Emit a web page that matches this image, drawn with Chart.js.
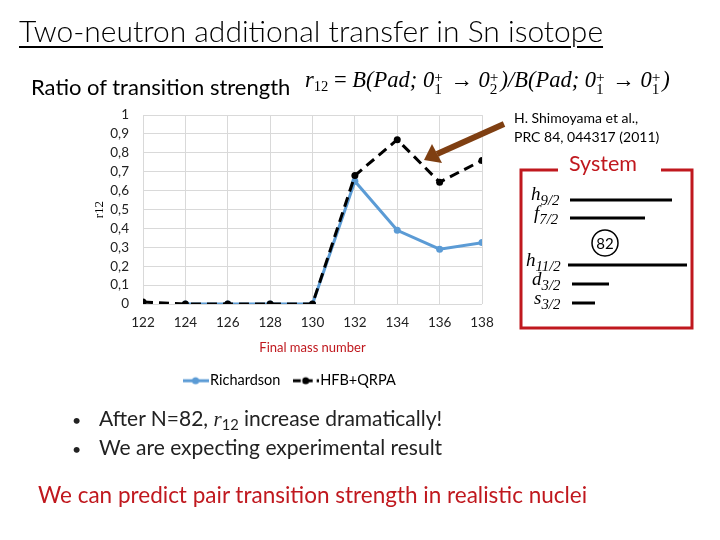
<!DOCTYPE html>
<html>
<head>
<meta charset="utf-8">
<script src="https://cdn.jsdelivr.net/npm/chart.js@4/dist/chart.umd.min.js"></script>
<style>
    body { margin: 0; background: #fff; }
    #slide { position: relative; width: 720px; height: 540px; overflow: hidden; font-family: Lato, "Noto Sans", sans-serif; }
    .abs { position: absolute; white-space: nowrap; }
    sub { vertical-align: baseline; position: relative; top: 0.3em; line-height: 0; }
    #title { left: 19px; top: 12px; font-size: 30px; font-weight: 300; color: #000; text-decoration: underline; text-decoration-thickness: 2px; text-underline-offset: 4px; }
    #ratio { left: 31px; top: 73px; font-size: 22px; color: #000; }
    .math { font-family: "Liberation Serif", "DejaVu Serif", serif; font-style: italic; }
    .up { font-style: normal; }
    .ss { display: inline-block; vertical-align: -0.45em; line-height: 0.8; font-size: 0.68em; text-align: left; margin-right: 2px; font-style: normal; }
    .ss span { display: block; }
    #formula { left: 305px; top: 67px; font-size: 22.5px; }
    #ref { left: 514px; top: 108px; font-size: 14px; line-height: 19px; color: #000; }
    #sys { left: 565px; top: 150px; font-size: 21.5px; color: #c0181e; background: #fff; padding: 0 4px; }
    .lvl { font-size: 19px; line-height: 20px; }
    .lvl sub { font-size: 0.78em; top: 0.35em; }
    #bullets { left: 72px; top: 404px; font-size: 21px; line-height: 28px; color: #222; }
    #bullets > div { height: 29px; }
    #bullets .dot { display: inline-block; width: 27px; font-size: 16px; }
    #bottom { left: 38px; top: 481px; font-size: 22.5px; color: #c0181e; }
    #chartBox { position: absolute; left: 80px; top: 93px; width: 440px; height: 305px; }
    svg { position: absolute; left: 0; top: 0; }
</style>
</head>
<body>
<div id="slide">
    <div id="chartBox"><canvas id="chart" width="440" height="305"></canvas></div>

    <svg width="720" height="540">
        <!-- arrow to HFB+QRPA curve -->
        <line x1="504" y1="124" x2="437" y2="154" stroke="#7f3f12" stroke-width="6"/>
        <polygon points="424,160 432,144 442,163" fill="#7f3f12"/>
        <!-- System box -->
        <polyline points="558,170 521,170 521,328 692,328 692,170 661,170" fill="none" stroke="#c0181e" stroke-width="3"/>
        <!-- single particle levels -->
        <line x1="570" y1="200" x2="672" y2="200" stroke="#000" stroke-width="3"/>
        <line x1="570" y1="218" x2="645" y2="218" stroke="#000" stroke-width="3"/>
        <circle cx="605" cy="243" r="13" fill="none" stroke="#000" stroke-width="1.5"/>
        <text x="605" y="249" text-anchor="middle" font-family="Lato, sans-serif" font-size="15">82</text>
        <line x1="568" y1="265" x2="687" y2="265" stroke="#000" stroke-width="3"/>
        <line x1="572" y1="284" x2="609" y2="284" stroke="#000" stroke-width="3"/>
        <line x1="572" y1="303" x2="595" y2="303" stroke="#000" stroke-width="3"/>
    </svg>

    <div id="title" class="abs">Two-neutron additional transfer in Sn isotope</div>
    <div id="ratio" class="abs">Ratio of transition strength</div>
    <div id="formula" class="abs math">r<sub class="up" style="font-size:0.65em">12</sub> <span class="up">=</span> B(Pad; 0<span class="ss"><span>+</span><span>1</span></span> <span class="up">&rarr;</span> 0<span class="ss"><span>+</span><span>2</span></span>)/B(Pad; 0<span class="ss"><span>+</span><span>1</span></span> <span class="up">&rarr;</span> 0<span class="ss"><span>+</span><span>1</span></span>)</div>
    <div id="ref" class="abs">H. Shimoyama et al.,<br>PRC 84, 044317 (2011)</div>
    <div id="sys" class="abs">System</div>

    <div class="abs math lvl" style="left:531px; top:184px;">h<sub>9/2</sub></div>
    <div class="abs math lvl" style="left:534px; top:203px;">f<sub>7/2</sub></div>
    <div class="abs math lvl" style="left:526px; top:250px;">h<sub>11/2</sub></div>
    <div class="abs math lvl" style="left:532px; top:269px;">d<sub>3/2</sub></div>
    <div class="abs math lvl" style="left:534px; top:288px;">s<sub>3/2</sub></div>

    <div id="bullets" class="abs">
        <div><span class="dot">&bull;</span>After N=82, <span class="math">r</span><sub style="font-size:0.7em">12</sub> increase dramatically!</div>
        <div><span class="dot">&bull;</span>We are expecting experimental result</div>
    </div>
    <div id="bottom" class="abs">We can predict pair transition strength in realistic nuclei</div>
</div>

<script>
// final mass number of the Sn isotope
const massNumbers = [122, 124, 126, 128, 130, 132, 134, 136, 138];
const richardson = [null, 0, 0, 0, 0, 0.65, 0.39, 0.29, 0.325];
const hfbQrpa = [0.01, 0, 0, 0, 0, 0.68, 0.87, 0.645, 0.76];

const blue = '#5b9bd5';

/**
 * Small legend icon: a line with a dot in the middle, like Excel
 */
function legendIcon(color, dashed) {
    const c = document.createElement('canvas');
    c.width = 26;
    c.height = 10;
    const ctx = c.getContext('2d');
    ctx.strokeStyle = color;
    ctx.fillStyle = color;
    ctx.lineWidth = 3;
    if (dashed) {
        ctx.setLineDash([8, 4]);
    }
    ctx.beginPath();
    ctx.moveTo(0, 5);
    ctx.lineTo(26, 5);
    ctx.stroke();
    ctx.beginPath();
    ctx.arc(13, 5, 3.5, 0, Math.PI * 2);
    ctx.fill();
    return c;
}

function toPoints(values) {
    return massNumbers.map((x, i) => ({ x, y: values[i] }));
}

const tickFont = { family: 'Lato, sans-serif', size: 13.5 };

new Chart(document.getElementById('chart'), {
    type: 'line',
    data: {
        datasets: [
            {
                label: 'HFB+QRPA',
                data: toPoints(hfbQrpa),
                borderColor: '#000',
                backgroundColor: '#000',
                borderWidth: 3,
                borderDash: [10, 6],
                pointRadius: 3.5,
                pointBorderWidth: 0,
                pointStyle: 'circle',
                legendIcon: legendIcon('#000', true)
            },
            {
                label: 'Richardson',
                data: toPoints(richardson),
                borderColor: blue,
                backgroundColor: blue,
                borderWidth: 3,
                pointRadius: 3.5,
                pointBorderWidth: 0,
                pointStyle: 'circle',
                legendIcon: legendIcon(blue, false)
            }
        ]
    },
    options: {
        responsive: false,
        animation: false,
        spanGaps: false,
        // left padding pushes the legend to the right; the y axis is narrowed to keep the plot in place
        layout: { padding: { top: 14, right: 38, left: 22, bottom: 0 } },
        plugins: {
            tooltip: { enabled: false },
            legend: {
                position: 'bottom',
                labels: {
                    usePointStyle: true,
                    color: '#000',
                    font: { family: 'Lato, sans-serif', size: 14.5 },
                    padding: 18,
                    generateLabels: chart => chart.data.datasets.map((ds, i) => ({
                        text: ds.label,
                        pointStyle: ds.legendIcon,
                        fillStyle: ds.backgroundColor,
                        strokeStyle: ds.borderColor,
                        lineWidth: 0,
                        hidden: false,
                        datasetIndex: i
                    })).reverse()
                }
            }
        },
        scales: {
            x: {
                type: 'linear',
                min: 122,
                max: 138,
                ticks: { stepSize: 2, color: '#222', font: tickFont, padding: 11, maxRotation: 0 },
                grid: { color: '#d9d9d9', drawTicks: false },
                border: { display: false },
                title: {
                    display: true,
                    text: 'Final mass number',
                    color: '#c0181e',
                    font: { family: 'Lato, sans-serif', size: 13 },
                    padding: { top: 8, bottom: 0 }
                },
                afterFit: scale => { scale.height = 51.5; }
            },
            y: {
                min: 0,
                max: 1,
                ticks: {
                    stepSize: 0.1,
                    autoSkip: false,
                    color: '#222',
                    font: tickFont,
                    padding: 14,
                    callback: v => (Math.round(v * 10) / 10).toString().replace('.', ',')
                },
                grid: { color: '#d9d9d9', drawTicks: false },
                border: { display: false },
                title: {
                    display: true,
                    text: 'r12',
                    color: '#000',
                    font: { family: '"Liberation Serif", serif', size: 13 },
                    padding: { top: -10, bottom: 0 }
                },
                afterFit: scale => { scale.width = 41; }
            }
        }
    }
});
</script>
</body>
</html>
